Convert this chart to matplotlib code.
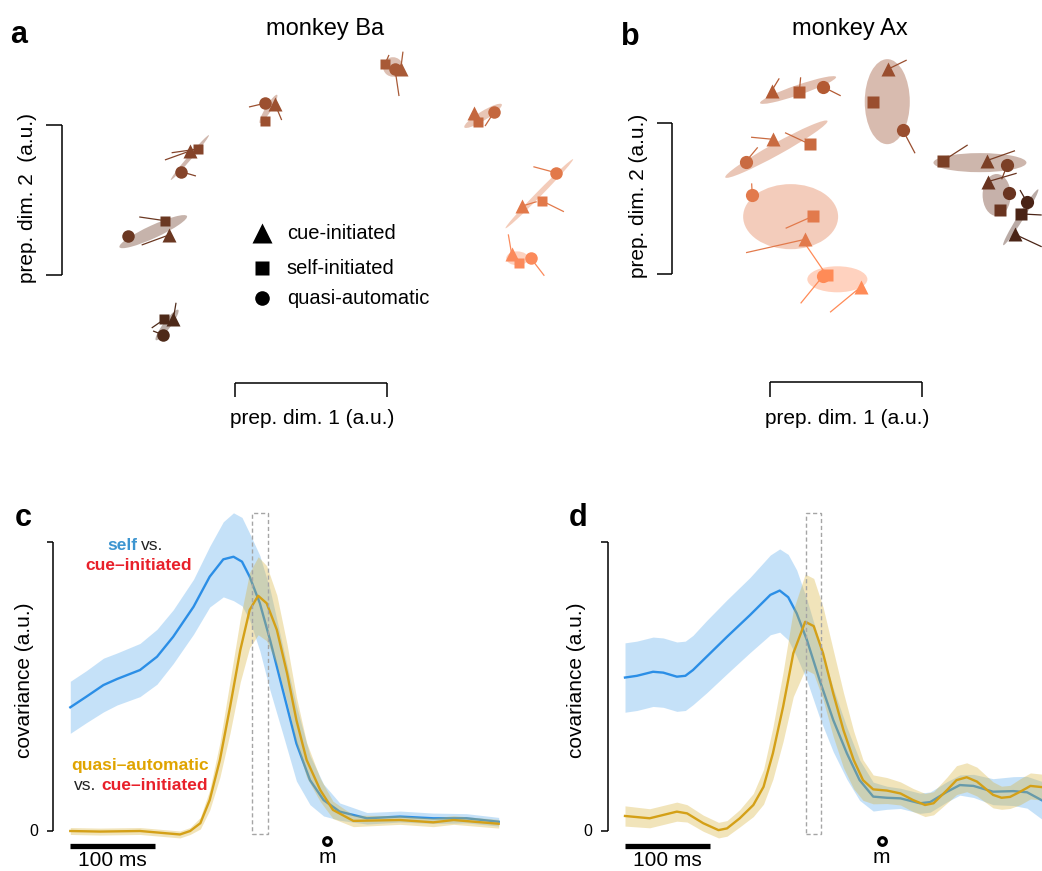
import numpy as np
import matplotlib
matplotlib.use('Agg')
import matplotlib.pyplot as plt
from matplotlib.patches import Ellipse, Rectangle
from matplotlib.transforms import Affine2D

plt.rcParams['font.family'] = ['Liberation Sans', 'DejaVu Sans']
nan = np.nan

# ---------------- panel a data (prep. dims, a.u.) ----------------
a_colors = ['#a85a37', '#9c5030', '#85442a', '#6b3822', '#4e2a19', '#c4673e', '#e2794a', '#fb8a5b']
a_tri_x = [1.090, 0.263, -0.296, -0.434, -0.406, 1.574, 1.890, 1.820]
a_tri_y = [1.371, 1.140, 0.827, 0.267, -0.295, 1.082, 0.460, 0.140]
a_sq_x = [0.987, 0.197, -0.245, -0.461, -0.465, 1.601, 2.018, 1.868]
a_sq_y = [1.407, 1.029, 0.840, 0.362, -0.295, 1.022, 0.495, 0.082]
a_ci_x = [1.053, 0.197, -0.355, -0.706, -0.472, 1.706, 2.110, 1.947]
a_ci_y = [1.371, 1.145, 0.689, 0.262, -0.400, 1.089, 0.682, 0.111]
a_tri_ex = [1.105, 0.307, -0.461, -0.614, -0.388, nan, 1.985, 1.798]
a_tri_ey = [1.489, 1.033, 0.767, 0.200, -0.185, nan, 0.489, 0.271]
a_sq_ex = [1.013, nan, -0.417, -0.630, -0.548, nan, 2.164, nan]
a_sq_ey = [1.467, nan, 0.815, 0.387, -0.353, nan, 0.422, nan]
a_ci_ex = [1.079, 0.092, -0.257, nan, -0.539, 1.645, 1.963, 2.035]
a_ci_ey = [1.193, 1.120, 0.660, nan, -0.373, 0.993, 0.722, -0.005]
a_ell_x = [1.039, 0.220, -0.297, -0.538, -0.447, 1.632, 2.002, 1.857]
a_ell_y = [1.387, 1.107, 0.783, 0.289, -0.333, 1.061, 0.542, 0.111]
a_ell_w = [0.13, 0.22, 0.39, 0.49, 0.25, 0.29, 0.64, 0.145]
a_ell_h = [0.13, 0.04, 0.027, 0.085, 0.05, 0.06, 0.035, 0.093]
a_ell_ang = [0, 59, 50, 25, 54, 32, 46, 0]

# ---------------- panel b data ----------------
b_colors = ['#b35a33', '#9a4e2f', '#c96b41', '#e27a4c', '#ff8b57', '#7c4026', '#693420', '#4a2416']
b_tri_x = [0.011, 0.776, 0.022, 0.231, 0.600, 1.428, 1.435, 1.615]
b_tri_y = [1.211, 1.353, 0.890, 0.229, -0.084, 0.749, 0.610, 0.262]
b_sq_x = [0.193, 0.681, 0.264, 0.285, 0.374, 1.142, 1.516, 1.655]
b_sq_y = [1.201, 1.135, 0.857, 0.383, -0.009, 0.749, 0.423, 0.397]
b_ci_x = [0.347, 0.875, -0.160, -0.117, 0.351, 1.564, 1.577, 1.692]
b_ci_y = [1.238, 0.952, 0.742, 0.522, -0.011, 0.720, 0.537, 0.478]
b_tri_ex = [0.061, 0.901, -0.125, -0.158, 0.396, 1.615, 1.626, 1.791]
b_tri_ey = [1.293, 1.414, 0.904, 0.141, -0.253, 0.815, 0.666, 0.180]
b_sq_ex = [0.202, nan, 0.099, 0.103, 0.231, 1.303, nan, 1.791]
b_sq_ey = [1.300, nan, 0.934, 0.302, 0.200, 0.853, nan, 0.390]
b_ci_ex = [0.466, 0.956, -0.081, -0.121, 0.202, 1.527, nan, 1.648]
b_ci_ey = [1.178, 0.798, 0.837, 0.599, -0.194, 0.626, nan, 0.555]
b_ell_x = [0.185, 0.773, 0.042, 0.136, 0.444, 1.384, 1.494, 1.653]
b_ell_y = [1.216, 1.139, 0.825, 0.379, -0.035, 0.736, 0.522, 0.375]
b_ell_w = [0.53, 0.297, 0.77, 0.626, 0.396, 0.613, 0.185, 0.435]
b_ell_h = [0.066, 0.562, 0.079, 0.43, 0.172, 0.126, 0.278, 0.04]
b_ell_ang = [19, 0, 29, 0, 0, 0, 0, 58]

legend_labels = ['cue-initiated', 'self-initiated', 'quasi-automatic']

# ---------------- panel c data (time re. movement, ms) ----------------
c_blue_t = [-302, -283, -263, -247, -220, -200, -181, -157, -138, -122, -110, -100, -91, -79, -67,
            -51, -36, -20, -4, 15, 47, 86, 125, 164, 202]
c_blue_m = [0.428, 0.465, 0.505, 0.526, 0.557, 0.603, 0.672, 0.776, 0.880, 0.940, 0.949, 0.932, 0.880,
            0.788, 0.661, 0.476, 0.303, 0.176, 0.107, 0.067, 0.044, 0.050, 0.044, 0.044, 0.032]
c_blue_s = [0.09, 0.09, 0.093, 0.09, 0.092, 0.095, 0.093, 0.095, 0.105, 0.13, 0.152, 0.153, 0.15,
            0.165, 0.175, 0.15, 0.13, 0.085, 0.055, 0.03, 0.02, 0.019, 0.018, 0.016, 0.015]
c_yel_t = [-302, -267, -220, -173, -161, -149, -138, -126, -114, -102, -91, -81, -71, -59, -47, -36,
           -24, -8, 7, 31, 86, 125, 149, 202]
c_yel_m = [0.0, -0.002, 0.0, -0.012, 0.0, 0.027, 0.107, 0.246, 0.43, 0.626, 0.765, 0.814, 0.788,
           0.696, 0.546, 0.384, 0.246, 0.142, 0.073, 0.035, 0.038, 0.03, 0.038, 0.025]
c_yel_s = [0.012, 0.012, 0.012, 0.012, 0.012, 0.02, 0.035, 0.06, 0.09, 0.11, 0.13, 0.135, 0.13, 0.12,
           0.10, 0.08, 0.06, 0.04, 0.03, 0.02, 0.015, 0.015, 0.015, 0.015]

# ---------------- panel d data ----------------
d_blue_t = [-302, -288, -269, -257, -241, -231, -222, -206, -182, -155, -131, -120, -110, -100, -88,
            -73, -57, -41, -26, -10, 6, 22, 45, 57, 77, 92, 108, 131, 155, 171, 188]
d_blue_m = [0.531, 0.537, 0.551, 0.548, 0.534, 0.537, 0.557, 0.603, 0.672, 0.747, 0.817, 0.832, 0.809,
            0.753, 0.661, 0.522, 0.384, 0.269, 0.176, 0.119, 0.115, 0.113, 0.096, 0.1, 0.136, 0.159,
            0.156, 0.136, 0.138, 0.134, 0.107]
d_blue_s = [0.12, 0.12, 0.12, 0.12, 0.12, 0.12, 0.12, 0.125, 0.128, 0.13, 0.138, 0.144, 0.148, 0.15,
            0.14, 0.13, 0.11, 0.09, 0.07, 0.05, 0.04, 0.035, 0.035, 0.035, 0.035, 0.035, 0.04, 0.045,
            0.05, 0.055, 0.065]
d_yel_t = [-302, -273, -241, -229, -210, -192, -182, -167, -151, -139, -128, -116, -104, -90, -80, -69,
           -57, -45, -33, -22, -10, 6, 22, 37, 51, 61, 77, 88, 100, 112, 131, 141, 151, 163, 175, 188]
d_yel_m = [0.052, 0.044, 0.067, 0.061, 0.027, 0.003, 0.009, 0.044, 0.09, 0.153, 0.269, 0.43, 0.615,
           0.724, 0.709, 0.615, 0.476, 0.349, 0.246, 0.176, 0.144, 0.14, 0.13, 0.107, 0.09, 0.096,
           0.142, 0.176, 0.186, 0.171, 0.125, 0.115, 0.118, 0.136, 0.156, 0.152]
d_yel_s = [0.035, 0.033, 0.033, 0.03, 0.028, 0.027, 0.027, 0.03, 0.04, 0.06, 0.09, 0.12, 0.15, 0.165,
           0.165, 0.16, 0.15, 0.13, 0.1, 0.07, 0.05, 0.045, 0.04, 0.04, 0.04, 0.04, 0.045, 0.05, 0.05,
           0.05, 0.045, 0.04, 0.04, 0.045, 0.045, 0.045]
c_box = (-88, -70)
d_box = (-89, -71)

BLUE_LINE = '#2b8ee6'
BLUE_BAND = '#8cc4f2'
YEL_LINE = '#d4a017'
YEL_BAND = '#d9b23a'

W, H = 1042, 871
fig = plt.figure(figsize=(W / 100, H / 100), dpi=100)
pix = Affine2D().scale(1 / W, -1 / H).translate(0, 1) + fig.transFigure


def add_px_axes(x0, y0, x1, y1):
    ax = fig.add_axes([x0 / W, 1 - y1 / H, (x1 - x0) / W, (y1 - y0) / H])
    ax.set_axis_off()
    return ax


def ftext(x, y, s, **kw):
    kw.setdefault('ha', 'center')
    kw.setdefault('va', 'center')
    fig.text(x, y, s, transform=pix, **kw)


def draw_scatter(ax, colors, tx, ty, sx, sy, cx, cy, tex, tey, sex, sey, cex, cey,
                 ex, ey, ew, eh, ea, ms):
    for i, c in enumerate(colors):
        ax.add_patch(Ellipse((ex[i], ey[i]), ew[i], eh[i], angle=ea[i], fc=c, ec='none',
                             alpha=0.38, zorder=1))
        for (px, py, qx, qy) in [(tx[i], ty[i], tex[i], tey[i]), (sx[i], sy[i], sex[i], sey[i]),
                                 (cx[i], cy[i], cex[i], cey[i])]:
            if not np.isnan(qx):
                ax.plot([px, qx], [py, qy], color=c, lw=0.9, zorder=2, solid_capstyle='butt')
        ax.plot(sx[i], sy[i], marker='s', ms=ms[1], color=c, mec='none', ls='', zorder=3)
        ax.plot(cx[i], cy[i], marker='o', ms=ms[2], color=c, mec='none', ls='', zorder=3)
        ax.plot(tx[i], ty[i], marker='^', ms=ms[0], color=c, mec='none', ls='', zorder=3)


def bracket(ax, x0, x1, y0, y1, tick, orient):
    kw = dict(color='k', lw=1.1, clip_on=False, solid_capstyle='butt')
    if orient == 'y':
        ax.plot([x0, x0], [y0, y1], **kw)
        ax.plot([x0 - tick, x0], [y0, y0], **kw)
        ax.plot([x0 - tick, x0], [y1, y1], **kw)
    else:
        ax.plot([x0, x1], [y0, y0], **kw)
        ax.plot([x0, x0], [y0, y0 - tick], **kw)
        ax.plot([x1, x1], [y0, y0 - tick], **kw)


# ---------------- panel a ----------------
axa = add_px_axes(0, 0, 600, 440)
axa.set_xlim(-235 / 152, 365 / 152)
axa.set_ylim(-165 / 150, 275 / 150)
draw_scatter(axa, a_colors, a_tri_x, a_tri_y, a_sq_x, a_sq_y, a_ci_x, a_ci_y,
             a_tri_ex, a_tri_ey, a_sq_ex, a_sq_ey, a_ci_ex, a_ci_ey,
             a_ell_x, a_ell_y, a_ell_w, a_ell_h, a_ell_ang, ms=(10, 7.5, 9))
bracket(axa, -1.138, None, 0, 1, 0.105, 'y')
bracket(axa, 0, 1, -0.72, None, 0.093, 'x')
# legend (marker key)
for lab, mk, msz, yy in zip(legend_labels, ['^', 's', 'o'], [15, 9.5, 10.5], [0.278, 0.045, -0.155]):
    axa.plot(0.18, yy, marker=mk, ms=msz, color='k', mec='none', ls='')
    axa.text(0.34, yy, lab, ha='left', va='center', fontsize=14.5)

# ---------------- panel b ----------------
axb = add_px_axes(600, 0, 1042, 440)
axb.set_xlim(-170 / 151.7, 272 / 151.7)
axb.set_ylim(-166 / 151.3, 274 / 151.3)
draw_scatter(axb, b_colors, b_tri_x, b_tri_y, b_sq_x, b_sq_y, b_ci_x, b_ci_y,
             b_tri_ex, b_tri_ey, b_sq_ex, b_sq_ey, b_ci_ex, b_ci_ey,
             b_ell_x, b_ell_y, b_ell_w, b_ell_h, b_ell_ang, ms=(10.5, 8, 9.5))
bracket(axb, -0.648, None, 0, 1, 0.097, 'y')
bracket(axb, 0, 1, -0.716, None, 0.097, 'x')


# ---------------- panels c, d ----------------
def draw_cov(ax, bt, bm, bs, yt, ym, ys, box):
    bt, bm, bs = map(np.asarray, (bt, bm, bs))
    yt, ym, ys = map(np.asarray, (yt, ym, ys))
    ax.fill_between(bt, bm - bs, bm + bs, color=BLUE_BAND, alpha=0.5, lw=0, zorder=1)
    ax.plot(bt, bm, color=BLUE_LINE, lw=1.7, zorder=2)
    ax.fill_between(yt, ym - ys, ym + ys, color=YEL_BAND, alpha=0.35, lw=0, zorder=3)
    ax.plot(yt, ym, color=YEL_LINE, lw=1.7, zorder=4)
    ax.add_patch(Rectangle((box[0], -0.011), box[1] - box[0], 1.11, fill=False, ls=(0, (3, 2)),
                           ec='#a5a5a5', lw=1.0, zorder=5))
    bracket(ax, -322, None, 0, 1, 8, 'y')
    ax.text(-340, 0, '0', ha='right', va='center', fontsize=11.5)
    ax.plot([-302, -202], [-0.052, -0.052], color='k', lw=3.8, solid_capstyle='butt', clip_on=False)
    ax.text(-252, -0.103, '100 ms', ha='center', va='center', fontsize=15)
    ax.plot(0, -0.034, marker='o', ms=5.5, mfc='white', mec='k', mew=2.3, clip_on=False)
    ax.text(0, -0.093, 'm', ha='center', va='center', fontsize=15)
    ax.set_ylim(-40 / 289, 331 / 289)


axc = add_px_axes(20, 500, 520, 871)
axc.set_xlim(-307 / 0.85, 193 / 0.85)
draw_cov(axc, c_blue_t, c_blue_m, c_blue_s, c_yel_t, c_yel_m, c_yel_s, c_box)

axd = add_px_axes(540, 500, 1042, 871)
axd.set_xlim(-341.7 / 0.85, 160.3 / 0.85)
draw_cov(axd, d_blue_t, d_blue_m, d_blue_s, d_yel_t, d_yel_m, d_yel_s, d_box)

# ---------------- texts ----------------
ftext(19, 35, 'a', fontsize=22, fontweight='bold')
ftext(630, 37, 'b', fontsize=22, fontweight='bold')
ftext(23, 518, 'c', fontsize=22, fontweight='bold')
ftext(578, 518, 'd', fontsize=22, fontweight='bold')
ftext(325, 29, 'monkey Ba', fontsize=17)
ftext(850, 29, 'monkey Ax', fontsize=17)
ftext(28, 198, 'prep. dim. 2  (a.u.)', fontsize=15, rotation=90)
ftext(638, 196, 'prep. dim. 2 (a.u.)', fontsize=15, rotation=90)
ftext(312, 418, 'prep. dim. 1 (a.u.)', fontsize=15)
ftext(847, 418, 'prep. dim. 1 (a.u.)', fontsize=15)
ftext(25, 680, 'covariance (a.u.)', fontsize=15, rotation=90)
ftext(577, 680, 'covariance (a.u.)', fontsize=15, rotation=90)

ftext(137, 545, 'self', ha='right', fontsize=12.5, fontweight='bold', color='#3d95d0')
ftext(141, 545, 'vs.', ha='left', fontsize=12.5, color='#222222')
ftext(139, 565, 'cue\u2013initiated', fontsize=12.5, fontweight='bold', color='#e8202a')
ftext(140.5, 765, 'quasi\u2013automatic', fontsize=12.5, fontweight='bold', color='#e0a400')
ftext(74, 785, 'vs.', ha='left', fontsize=12.5, color='#222222')
ftext(101, 785, 'cue\u2013initiated', ha='left', fontsize=12.5, fontweight='bold', color='#e8202a')

fig.savefig('out.png', dpi=100)
